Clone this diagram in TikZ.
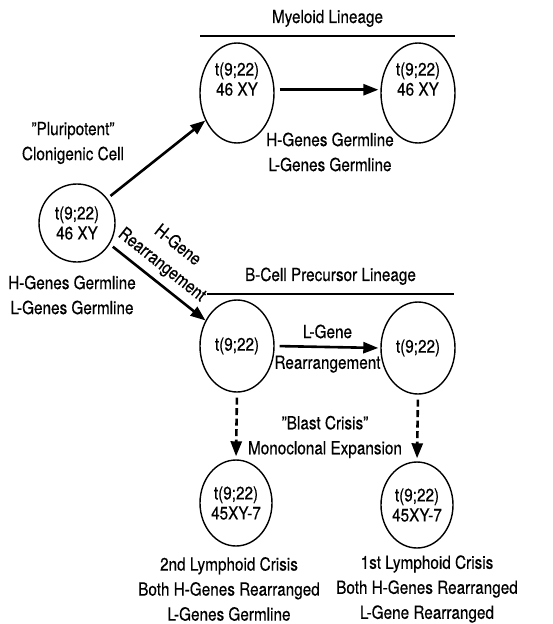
\documentclass[tikz,border=0pt]{standalone}
\usepackage{fontspec}
\setmainfont{TeX Gyre Heros}[FakeStretch=0.85,FakeBold=0.4]
\usetikzlibrary{shapes.geometric,arrows.meta}
\newcommand\LineageBar[4]{%
    \draw[bar] (#1,#3) -- (#2,#3) node[midway,above=5pt] {#4};
}
\tikzset{
    cell/.style={draw,ellipse,line width=1.4pt,inner sep=0pt,align=center,
        font=\fontsize{18}{20}\selectfont},
    lbl/.style={align=center,font=\fontsize{18}{25}\selectfont},
    bar/.style={line width=1.5pt,font=\fontsize{18}{25}\selectfont},
    arr/.style={line width=2.6pt,-{Triangle[length=15pt,width=11pt]}},
    darr/.style={arr,dash pattern=on 7pt off 3.5pt},
}
\begin{document}
\begin{tikzpicture}[x=1pt,y=-1pt]
    \useasboundingbox (0,0) rectangle (552,624);
    \LineageBar{200}{455}{36}{Myeloid Lineage}
    \LineageBar{207}{454}{294}{B-Cell Precursor Lineage}
    % cells
    \node[cell,minimum width=76pt,minimum height=78pt] (stem) at (77,223) {t(9;22)\\46 XY};
    \node[cell,minimum width=74pt,minimum height=100pt] (my1) at (237,93) {t(9;22)\\46 XY\\[8pt]};
    \node[cell,minimum width=74pt,minimum height=100pt] (my2) at (418,93) {t(9;22)\\46 XY\\[8pt]};
    \node[cell,minimum width=74pt,minimum height=92pt] (b1) at (237,346) {t(9;22)};
    \node[cell,minimum width=74pt,minimum height=92pt] (b2) at (418,348) {t(9;22)};
    \node[cell,minimum width=72pt,minimum height=86pt] (c1) at (236,503) {t(9;22)\\45XY-7};
    \node[cell,minimum width=72pt,minimum height=86pt] (c2) at (417,505) {t(9;22)\\45XY-7};
    % texts
    \node[lbl] (pluri) at (73,143) {''Pluripotent''\\Clonigenic Cell};
    \node[lbl] (stemgenes) at (72,295) {H-Genes Germline\\L-Genes Germline};
    \node[lbl] (mygenes) at (330,152) {H-Genes Germline\\L-Genes Germline};
    \node[lbl] (blast) at (325,437) {''Blast Crisis''\\Monoclonal Expansion};
    \node[lbl] (crisis2) at (229,589) {2nd Lymphoid Crisis\\Both H-Genes Rearranged\\L-Genes Germline};
    \node[lbl] (crisis1) at (427,589) {1st Lymphoid Crisis\\Both H-Genes Rearranged\\L-Gene Rearranged};
    % arrows
    \draw[arr,shorten <=4pt] (stem.39) -- (my1.221);
    \draw[arr,shorten <=4pt] (stem.-33) -- (b1.141)
        node[lbl,pos=0.44,above=5pt,sloped,inner sep=1pt] {H-Gene\\Rearrangement};
    \draw[arr,shorten <=5pt,shorten >=2pt] (my1.5) -- (my2.175);
    \draw[arr,shorten <=5pt,shorten >=2pt] (b1.east) -- (b2.west)
        node[lbl,midway,above=4pt] {L-Gene}
        node[lbl,midway,below=4pt] {Rearrangement};
    \draw[darr,shorten <=5pt,shorten >=3pt] (b1.south) -- (c1.north);
    \draw[darr,shorten <=5pt,shorten >=3pt] (b2.south) -- (c2.north);
\end{tikzpicture}
\end{document}
